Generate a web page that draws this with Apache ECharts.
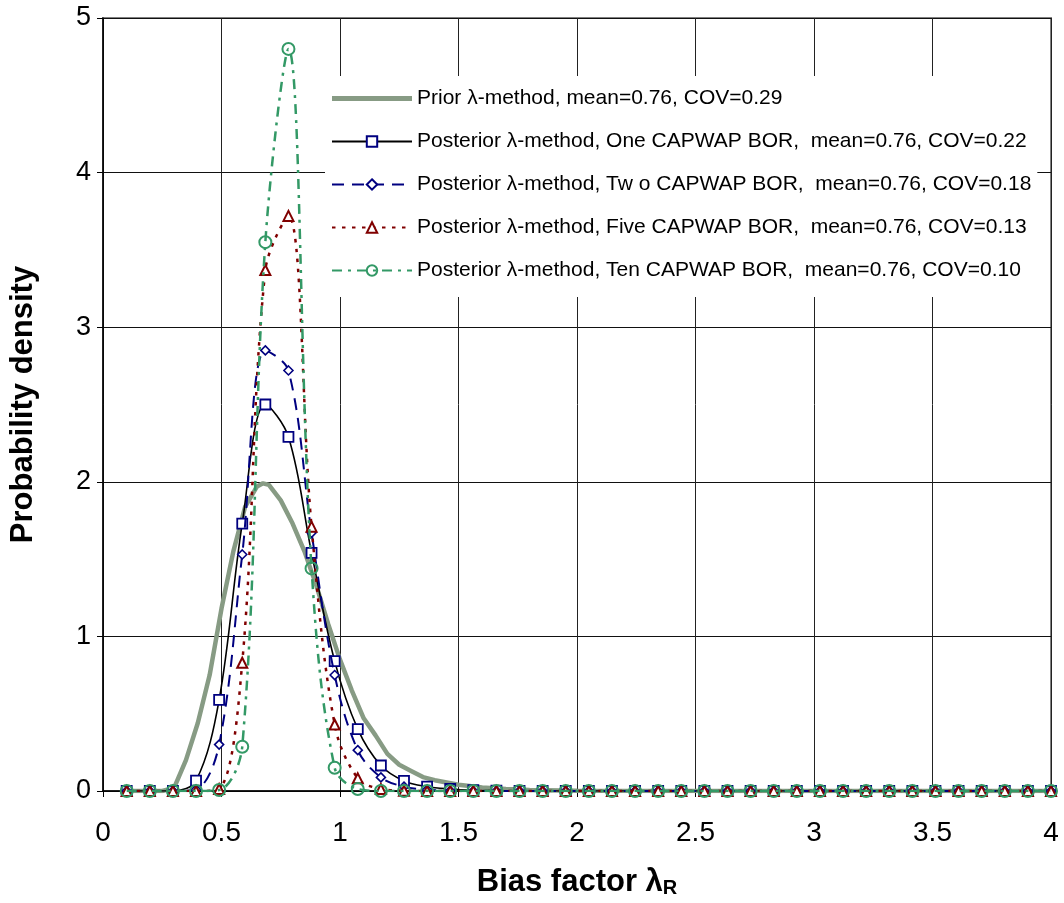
<!DOCTYPE html>
<html>
<head>
<meta charset="utf-8">
<script src="https://cdn.jsdelivr.net/npm/echarts@6/dist/echarts.min.js"></script>
<style>
html,body{margin:0;padding:0;background:#fff;}
#chart{width:1064px;height:903px;}
</style>
</head>
<body>
<div id="chart"></div>
<script>
// Bias factor values at which the posterior curves are sampled
var lambdaX = [0.1, 0.1975, 0.295, 0.3925, 0.49, 0.5875, 0.685, 0.7825, 0.88, 0.9775,
  1.075, 1.1725, 1.27, 1.3675, 1.465, 1.5625, 1.66, 1.7575, 1.855, 1.9525,
  2.05, 2.1475, 2.245, 2.3425, 2.44, 2.5375, 2.635, 2.7325, 2.83, 2.9275,
  3.025, 3.1225, 3.22, 3.3175, 3.415, 3.5125, 3.61, 3.7075, 3.805, 3.9025, 4.0];

var postOne = [0, 0, 0, 0.067, 0.59, 1.73, 2.50, 2.29, 1.54, 0.84,
  0.40, 0.165, 0.065, 0.028, 0.013, 0.005, 0.002, 0, 0, 0,
  0, 0, 0, 0, 0, 0, 0, 0, 0, 0, 0, 0, 0, 0, 0, 0, 0, 0, 0, 0, 0];
var postTwo = [0, 0, 0, 0.01, 0.30, 1.53, 2.85, 2.72, 1.67, 0.75,
  0.264, 0.088, 0.028, 0.008, 0.002, 0, 0, 0, 0, 0,
  0, 0, 0, 0, 0, 0, 0, 0, 0, 0, 0, 0, 0, 0, 0, 0, 0, 0, 0, 0, 0];
var postFive = [0, 0, 0, 0, 0.013, 0.83, 3.37, 3.72, 1.71, 0.43,
  0.082, 0.013, 0.002, 0, 0, 0, 0, 0, 0, 0,
  0, 0, 0, 0, 0, 0, 0, 0, 0, 0, 0, 0, 0, 0, 0, 0, 0, 0, 0, 0, 0];
var postTen = [0, 0, 0, 0, 0.006, 0.286, 3.55, 4.80, 1.44, 0.15,
  0.013, 0, 0, 0, 0, 0, 0, 0, 0, 0,
  0, 0, 0, 0, 0, 0, 0, 0, 0, 0, 0, 0, 0, 0, 0, 0, 0, 0, 0, 0, 0];

// Prior density curve
var priorX = [0.1, 0.2, 0.25, 0.30, 0.35, 0.40, 0.45, 0.50, 0.55, 0.60, 0.65, 0.675, 0.70,
  0.75, 0.80, 0.85, 0.90, 0.95, 1.00, 1.05, 1.10, 1.15, 1.20, 1.25, 1.30, 1.35,
  1.40, 1.50, 1.60, 1.70, 1.80, 2.0, 2.5, 3.0, 3.5, 4.0];
var priorY = [0, 0, 0, 0.02, 0.20, 0.44, 0.75, 1.18, 1.55, 1.84, 1.97, 1.99, 1.98,
  1.88, 1.73, 1.55, 1.33, 1.08, 0.85, 0.65, 0.47, 0.36, 0.24, 0.17, 0.13, 0.09,
  0.07, 0.04, 0.022, 0.013, 0.006, 0.002, 0, 0, 0, 0];

var seriesNames = [
  'Prior \u03bb-method, mean=0.76, COV=0.29',
  'Posterior \u03bb-method, One CAPWAP BOR,  mean=0.76, COV=0.22',
  'Posterior \u03bb-method, Tw o CAPWAP BOR,  mean=0.76, COV=0.18',
  'Posterior \u03bb-method, Five CAPWAP BOR,  mean=0.76, COV=0.13',
  'Posterior \u03bb-method, Ten CAPWAP BOR,  mean=0.76, COV=0.10'
];
var yTicks = [0, 1, 2, 3, 4, 5];
var xTicks = [0, 0.5, 1, 1.5, 2, 2.5, 3, 3.5, 4];

function pairs(xs, ys) { return xs.map(function (x, i) { return [x, ys[i]]; }); }

var FONT = "'Liberation Sans', Arial, sans-serif";
var PRIOR_COLOR = '#879b84';
var chart = echarts.init(document.getElementById('chart'), null, {renderer: 'canvas'});

var legendData = seriesNames.map(function (n, i) {
  if (i === 0) {
    return {name: n, icon: 'path://M0 0H80V5H0Z', itemStyle: {color: PRIOR_COLOR}};
  }
  return {name: n};
});

var option = {
  animation: false,
  backgroundColor: '#fff',
  grid: {left: 100, right: 13, top: 18, bottom: 110, show: true, borderColor: '#808080', borderWidth: 2},
  xAxis: {
    type: 'value', min: 0, max: 4, interval: 0.5,
    name: 'Bias factor \u03bb{sub|R}',
    nameLocation: 'middle', nameGap: 76,
    nameTextStyle: {fontFamily: FONT, fontWeight: 'bold', fontSize: 31, color: '#000',
      rich: {sub: {fontFamily: FONT, fontWeight: 'bold', fontSize: 20, color: '#000', verticalAlign: 'bottom', padding: [8, 0, 0, 0]}}},
    axisLine: {show: true, onZero: false, lineStyle: {color: '#000', width: 1.5}},
    axisTick: {show: true, inside: false, length: 6, lineStyle: {color: '#000'}},
    axisLabel: {fontFamily: FONT, fontSize: 28, color: '#000', margin: 28,
      formatter: function (v) { return xTicks.indexOf(v) >= 0 ? String(v) : ''; }},
    splitLine: {show: true, lineStyle: {color: '#222', width: 1}}
  },
  yAxis: {
    type: 'value', min: 0, max: 5, interval: 1,
    name: 'Probability density',
    nameLocation: 'middle', nameGap: 64, nameRotate: 90,
    nameTextStyle: {fontFamily: FONT, fontWeight: 'bold', fontSize: 31, color: '#000'},
    axisLine: {show: true, onZero: false, lineStyle: {color: '#000', width: 1.5}},
    axisTick: {show: true, inside: false, length: 6, lineStyle: {color: '#000'}},
    axisLabel: {fontFamily: FONT, fontSize: 27, color: '#000', margin: 12,
      formatter: function (v) { return yTicks.indexOf(v) >= 0 ? String(v) : ''; }},
    splitLine: {show: true, lineStyle: {color: '#111', width: 1}}
  },
  legend: {
    show: true, orient: 'vertical', left: 325, top: 76,
    padding: [12, 6, 16, 6],
    backgroundColor: '#fff',
    itemWidth: 80, itemHeight: 13, itemGap: 22,
    textStyle: {fontFamily: FONT, fontSize: 21, color: '#000'},
    data: legendData
  },
  series: [
    {
      name: seriesNames[0], type: 'line', data: pairs(priorX, priorY),
      symbol: 'none', showSymbol: false, smooth: false, z: 2,
      lineStyle: {color: PRIOR_COLOR, width: 4.5},
      itemStyle: {color: PRIOR_COLOR}
    },
    {
      name: seriesNames[1], type: 'line', data: pairs(lambdaX, postOne),
      symbol: 'rect', symbolSize: 10, smooth: 0.35, z: 3,
      lineStyle: {color: '#000', width: 1.6},
      itemStyle: {color: '#fff', borderColor: '#000080', borderWidth: 1.8}
    },
    {
      name: seriesNames[2], type: 'line', data: pairs(lambdaX, postTwo),
      symbol: 'diamond', symbolSize: 9, smooth: 0.35, z: 4,
      lineStyle: {color: '#000080', width: 2, type: [12, 8]},
      itemStyle: {color: '#fff', borderColor: '#000080', borderWidth: 1.6}
    },
    {
      name: seriesNames[3], type: 'line', data: pairs(lambdaX, postFive),
      symbol: 'triangle', symbolSize: 10, smooth: 0.35, z: 5,
      lineStyle: {color: '#800000', width: 2.5, type: [3.5, 6.5]},
      itemStyle: {color: '#fff', borderColor: '#800000', borderWidth: 2}
    },
    {
      name: seriesNames[4], type: 'line', data: pairs(lambdaX, postTen),
      symbol: 'circle', symbolSize: 12, smooth: 0.35, z: 6,
      lineStyle: {color: '#339966', width: 2.5, type: [10, 6, 3, 6]},
      itemStyle: {color: 'rgba(255,255,255,0)', borderColor: '#339966', borderWidth: 2}
    }
  ]
};
chart.setOption(option);
</script>
</body>
</html>
